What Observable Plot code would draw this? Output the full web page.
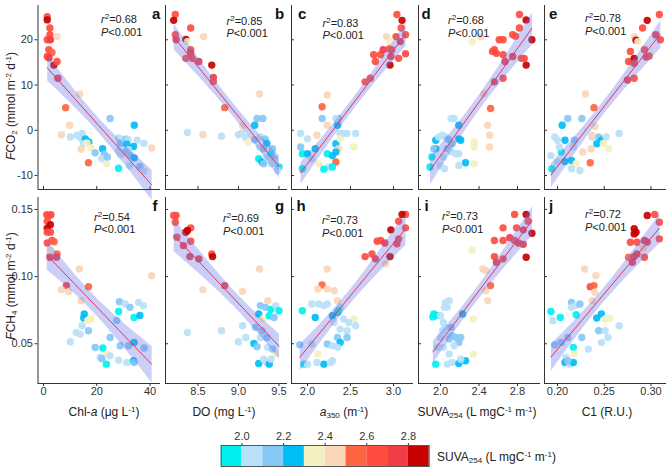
<!DOCTYPE html>
<html><head><meta charset="utf-8">
<script src="https://cdn.jsdelivr.net/npm/d3@7"></script>
<script src="https://cdn.jsdelivr.net/npm/@observablehq/plot@0.6"></script>
<style>
body{margin:0;background:#fff;font-family:"Liberation Sans",Arial,sans-serif;}
#chart{position:relative;width:672px;height:468px;overflow:hidden;background:#fff;}
#chart svg{position:absolute;left:0;top:0;}
.t{position:absolute;white-space:nowrap;color:#222;font-size:11px;line-height:12px;}
.lt{position:absolute;white-space:nowrap;color:#111;font-size:15px;line-height:15px;font-weight:bold;}
.yl{position:absolute;white-space:nowrap;color:#222;font-size:12px;line-height:14px;transform:translate(-50%,-50%) rotate(-90deg);}
.xl{position:absolute;white-space:nowrap;color:#222;font-size:12px;line-height:14px;transform:translate(-50%,-50%);}
sub,sup{font-size:8px;line-height:0;}
sup{vertical-align:4px;} sub{vertical-align:-2px;}
</style></head>
<body><div id="chart"></div>
<script>
// ---------- data: [x, y, SUVA254] ----------
const chlaFco2 = [[1.4,25.1,2.65],[1.4,24.4,2.85],[2.4,22.6,2.65],[2.4,21.1,2.65],[1.4,20.0,2.65],[2.6,20.0,2.75],[5.1,20.7,2.45],[2.0,17.8,2.65],[3.2,17.2,2.55],[1.4,16.3,2.65],[2.1,16.0,2.75],[3.9,14.4,2.85],[5.1,15.2,2.65],[5.4,11.5,2.75],[13.6,8.0,2.45],[8.3,5.0,2.55],[9.8,1.1,2.45],[6.7,-1.0,2.45],[10.1,-1.5,2.05],[12.6,-1.1,2.05],[14.5,-0.7,2.05],[14.0,-1.7,2.05],[15.7,-1.9,2.25],[17.0,-2.6,2.25],[15.0,-3.0,2.05],[16.3,-2.8,2.35],[14.1,-4.2,2.45],[17.9,-3.9,2.35],[16.9,-7.2,2.55],[19.4,-5.0,2.15],[22.2,-4.1,2.25],[22.8,-5.3,2.15],[21.9,-6.3,2.05],[23.6,-7.4,2.35],[24.0,-5.9,2.15],[25.0,2.6,2.15],[28.2,-1.7,2.05],[29.4,-2.0,2.05],[31.0,-2.0,2.15],[31.8,-2.1,2.05],[28.9,-2.9,2.15],[31.3,-3.1,2.25],[34.1,1.1,2.25],[35.2,-2.2,2.05],[37.7,-2.9,2.05],[40.6,-3.9,2.45],[33.8,-3.6,2.25],[31.9,-4.3,2.05],[28.2,-4.6,2.05],[30.7,-4.8,2.15],[28.9,-5.4,2.05],[32.6,-5.6,2.15],[34.1,-6.1,2.25],[28.2,-8.4,1.95],[32.3,-7.8,2.05],[36.2,-8.0,2.15],[37.7,-9.0,2.05]];
const doFco2 = [[8.22,25.6,2.65],[8.20,24.3,2.85],[8.22,21.1,2.65],[8.23,20.0,2.75],[8.41,22.6,2.65],[8.35,20.1,2.85],[8.37,19.6,2.35],[8.57,20.7,2.45],[8.41,17.8,2.65],[8.41,17.1,2.75],[8.35,15.9,2.65],[8.43,15.9,2.65],[8.51,15.2,2.75],[8.67,14.4,2.85],[8.69,11.7,2.75],[8.69,10.8,2.65],[8.83,5.0,2.55],[9.26,8.0,2.45],[8.37,-0.5,2.05],[8.56,-1.0,2.45],[8.79,-1.3,2.05],[9.05,1.0,2.45],[9.00,-1.0,2.05],[9.04,-0.7,2.05],[9.09,-1.7,2.05],[9.12,-2.6,2.35],[9.23,2.6,2.15],[9.30,2.6,2.15],[9.20,1.1,2.25],[9.20,-2.1,2.15],[9.27,-1.5,2.05],[9.33,-1.9,2.15],[9.35,-2.9,2.25],[9.26,-3.7,2.05],[9.31,-4.1,2.15],[9.25,-6.3,1.95],[9.29,-7.0,2.25],[9.35,-5.9,2.05],[9.40,-5.2,1.95],[9.42,-4.1,2.15],[9.44,-6.3,2.15],[9.31,-7.4,2.15],[9.50,-8.1,1.95],[9.48,-8.9,2.05],[9.40,-7.4,2.05],[9.45,-7.2,2.05]];
const a350Fco2 = [[1.92,-0.7,2.05],[1.92,-3.7,2.15],[1.94,-5.2,1.95],[2.00,-1.9,2.05],[1.94,-8.5,1.95],[2.00,-5.2,2.25],[2.05,-6.3,2.05],[2.09,-4.1,2.25],[2.11,-1.1,2.45],[2.13,-7.4,2.35],[2.17,5.2,2.55],[2.17,2.6,2.15],[2.23,7.8,2.45],[2.23,1.1,2.45],[2.23,-5.2,1.95],[2.25,-8.1,2.05],[2.19,-8.6,1.95],[2.36,2.6,2.15],[2.35,1.1,2.25],[2.33,2.6,2.05],[2.38,-0.7,2.05],[2.42,-0.7,2.05],[2.46,-0.7,2.05],[2.56,-0.7,2.05],[2.33,-3.0,2.25],[2.38,-1.9,2.35],[2.36,-4.1,2.45],[2.54,-3.7,2.35],[2.33,-4.8,2.25],[2.29,-5.6,2.25],[2.33,-7.0,2.55],[2.29,-8.1,1.95],[2.67,10.7,2.65],[2.73,11.5,2.65],[2.79,15.2,2.65],[2.85,16.7,2.65],[2.88,17.8,2.75],[2.92,20.7,2.45],[2.96,19.6,2.35],[2.97,16.3,2.75],[2.96,14.4,2.85],[2.98,17.8,2.65],[2.95,18.0,2.65],[3.04,25.6,2.65],[3.10,24.3,2.85],[3.09,22.6,2.65],[3.03,20.7,2.65],[3.14,21.1,2.65],[3.08,19.6,2.75],[3.06,15.9,2.65],[3.14,16.9,2.65],[2.77,16.7,2.65]];
const suvaFco2 = [[1.89,-8.1,1.95],[1.91,-5.9,1.95],[1.95,-4.1,2.25],[1.95,-2.2,2.25],[1.98,-1.5,2.05],[2.02,-1.1,2.05],[2.05,-1.5,2.05],[2.11,2.6,2.05],[2.14,2.6,2.05],[2.19,1.1,2.25],[2.19,-1.9,2.25],[2.21,-2.2,2.25],[2.08,-2.0,2.15],[2.12,-3.0,2.15],[2.07,-4.1,2.15],[2.11,-4.8,2.05],[2.16,-5.2,2.05],[2.03,-5.9,2.05],[2.19,-5.2,2.05],[2.26,-7.2,2.25],[2.19,-7.8,2.05],[2.04,-8.5,2.05],[2.00,-7.8,2.05],[1.93,-4.1,2.15],[2.35,-2.6,2.35],[2.35,-3.7,2.35],[2.35,-7.4,2.35],[2.33,19.6,2.35],[2.42,20.7,2.45],[2.45,8.1,2.45],[2.49,1.1,2.45],[2.51,-1.1,2.45],[2.51,-3.7,2.45],[2.52,4.8,2.55],[2.56,10.7,2.75],[2.56,17.8,2.65],[2.54,17.4,2.65],[2.58,17.0,2.65],[2.61,20.0,2.65],[2.82,25.6,2.65],[2.89,24.4,2.85],[2.65,20.0,2.65],[2.75,21.1,2.65],[2.78,20.8,2.65],[2.82,22.6,2.65],[2.95,20.0,2.85],[2.65,16.7,2.65],[2.67,15.2,2.75],[2.75,16.3,2.75],[2.84,15.9,2.65],[2.87,15.9,2.65],[2.89,14.4,2.85],[2.65,11.5,2.65]];
const c1Fco2 = [[0.309,25.6,2.65],[0.296,24.3,2.85],[0.291,22.6,2.65],[0.305,21.1,2.75],[0.310,20.0,2.65],[0.282,20.7,2.45],[0.284,19.9,2.85],[0.286,19.6,2.35],[0.278,17.4,2.65],[0.293,17.8,2.65],[0.295,16.2,2.75],[0.276,15.2,2.65],[0.282,15.9,2.85],[0.282,14.8,2.75],[0.275,11.1,2.75],[0.282,11.5,2.65],[0.298,16.4,2.65],[0.230,8.0,2.45],[0.239,5.0,2.55],[0.211,2.6,2.15],[0.226,2.6,2.15],[0.205,1.1,2.25],[0.240,0.9,2.45],[0.197,-1.5,2.05],[0.200,-2.2,2.05],[0.208,-2.2,2.25],[0.218,-2.2,2.15],[0.237,-1.5,2.05],[0.244,-1.5,2.15],[0.247,-2.2,2.25],[0.252,-1.5,2.05],[0.266,-0.7,2.05],[0.237,-1.1,2.45],[0.242,-3.0,2.25],[0.249,-2.9,2.35],[0.255,-4.1,2.35],[0.236,-4.1,2.45],[0.227,-4.8,2.45],[0.193,-5.6,2.05],[0.204,-4.8,1.95],[0.200,-7.0,2.05],[0.208,-6.9,2.25],[0.215,-6.7,2.25],[0.235,-7.2,2.55],[0.194,-8.5,1.95],[0.215,-8.5,2.05],[0.224,-8.9,2.05],[0.220,-7.4,2.35],[0.217,-3.7,2.05],[0.202,-3.7,2.05]];
const chlaFch4 = [[2.0,0.1455,2.65],[1.2,0.1460,2.65],[2.8,0.1460,2.65],[1.4,0.1413,2.65],[2.6,0.1386,2.85],[1.4,0.1360,2.85],[1.4,0.1331,2.65],[2.6,0.1331,2.65],[3.2,0.1269,2.65],[1.4,0.1250,2.65],[4.0,0.1260,2.55],[2.6,0.1194,2.35],[5.1,0.1169,2.55],[4.9,0.1144,2.75],[2.4,0.1144,2.75],[13.5,0.1057,2.45],[8.6,0.0933,2.75],[6.7,0.0903,2.45],[9.4,0.0888,2.45],[16.9,0.0925,2.55],[14.1,0.0821,2.45],[40.6,0.1007,2.45],[28.5,0.0813,2.15],[30.7,0.0796,2.05],[32.5,0.0771,2.15],[35.7,0.0808,2.05],[37.5,0.0784,2.05],[28.2,0.0741,1.95],[34.0,0.0696,1.95],[36.2,0.0711,2.25],[27.5,0.0673,2.15],[15.3,0.0722,2.25],[15.1,0.0692,2.25],[16.6,0.0674,2.35],[17.9,0.0686,2.35],[14.5,0.0634,2.05],[12.3,0.0584,2.05],[16.9,0.0597,2.15],[13.8,0.0572,2.05],[10.1,0.0515,2.05],[25.0,0.0547,2.15],[28.8,0.0485,2.15],[31.9,0.0485,2.15],[34.0,0.0510,2.25],[37.8,0.0468,2.15],[19.4,0.0472,2.15],[22.3,0.0468,1.95],[21.3,0.0398,2.05],[23.8,0.0423,2.35],[21.9,0.0389,2.15],[23.6,0.0348,1.95],[28.2,0.0378,2.05],[31.3,0.0360,2.05],[33.8,0.0373,2.25],[34.0,0.0361,2.15],[25.0,0.0410,2.05]];
const doFch4 = [[8.20,0.1455,2.65],[8.23,0.1455,2.65],[8.22,0.1405,2.65],[8.41,0.1363,2.65],[8.37,0.1343,2.85],[8.35,0.1330,2.85],[8.24,0.1293,2.65],[8.41,0.1263,2.65],[8.32,0.1231,2.75],[8.40,0.1149,2.75],[8.51,0.1132,2.75],[8.67,0.1169,2.65],[8.68,0.1149,2.85],[8.83,0.0933,2.75],[8.56,0.0903,2.45],[9.05,0.0890,2.45],[9.26,0.1057,2.45],[9.36,0.0821,2.45],[8.37,0.0584,2.05],[8.79,0.0597,2.05],[9.05,0.0634,2.05],[9.00,0.0515,2.05],[9.09,0.0547,2.05],[9.25,0.0722,2.25],[9.30,0.0685,2.35],[9.27,0.0784,2.15],[9.33,0.0771,2.15],[9.40,0.0756,1.95],[9.46,0.0784,2.05],[9.50,0.0746,1.95],[9.38,0.0709,1.95],[9.44,0.0696,2.15],[9.21,0.0622,2.15],[9.29,0.0597,2.15],[9.19,0.0502,2.25],[9.27,0.0547,2.05],[9.35,0.0547,2.15],[9.36,0.0473,2.05],[9.23,0.0478,2.15],[9.46,0.0423,2.35],[9.42,0.0460,2.15],[9.25,0.0353,2.25],[9.31,0.0385,2.05],[9.35,0.0360,2.05],[9.38,0.0348,2.25],[9.40,0.0385,2.05]];
const a350Fch4 = [[1.94,0.0746,1.95],[1.91,0.0493,2.15],[1.96,0.0348,1.95],[2.00,0.0348,2.05],[2.05,0.0796,2.05],[2.09,0.0696,2.25],[2.12,0.0423,2.35],[2.13,0.0796,2.05],[2.19,0.0784,2.05],[2.23,0.0796,2.05],[2.17,0.0938,2.55],[2.12,0.0908,2.45],[2.23,0.1057,2.45],[2.23,0.0908,2.45],[2.19,0.0348,2.25],[2.11,0.0361,2.05],[2.05,0.0498,2.05],[2.23,0.0498,2.15],[2.27,0.0361,2.05],[3.14,0.1463,2.65],[3.10,0.1463,2.85],[3.06,0.1413,2.65],[2.97,0.1348,2.85],[3.14,0.1363,2.65],[2.85,0.1269,2.65],[2.81,0.1263,2.65],[2.90,0.1250,2.75],[3.04,0.1245,2.75],[3.06,0.1280,2.65],[2.96,0.1149,2.85],[2.91,0.1095,2.45],[2.75,0.1169,2.65],[2.67,0.1149,2.65],[2.79,0.1132,2.75],[2.35,0.0821,2.45],[2.31,0.0895,2.45],[2.35,0.0734,2.25],[2.38,0.0771,2.05],[2.29,0.0709,2.25],[2.42,0.0684,2.05],[2.54,0.0684,2.35],[2.56,0.0634,2.05],[2.48,0.0659,2.05],[2.46,0.0597,2.05],[2.38,0.0609,2.05],[2.35,0.0547,2.15],[2.46,0.0547,2.15],[2.38,0.0510,2.25],[2.35,0.0473,2.05],[2.29,0.0485,2.05],[2.29,0.0373,2.05],[2.36,0.0746,1.95],[2.31,0.0659,2.05]];
const suvaFch4 = [[1.93,0.0722,1.95],[1.92,0.0700,1.95],[1.96,0.0710,1.95],[1.95,0.0348,1.95],[1.97,0.0473,2.05],[2.00,0.0547,2.05],[2.02,0.0597,2.05],[2.05,0.0808,2.05],[2.09,0.0821,2.05],[2.07,0.0771,2.05],[2.04,0.0771,2.05],[2.00,0.0709,2.05],[2.03,0.0659,2.05],[2.05,0.0622,2.05],[2.11,0.0622,2.15],[2.12,0.0560,2.15],[2.09,0.0535,2.15],[2.16,0.0547,2.15],[2.19,0.0510,2.15],[2.14,0.0485,2.05],[2.23,0.0722,2.25],[2.21,0.0547,2.15],[2.03,0.0473,2.05],[2.09,0.0423,2.05],[2.07,0.0348,2.05],[2.12,0.0361,2.05],[2.19,0.0353,2.25],[2.26,0.0373,2.25],[2.21,0.0385,2.05],[2.34,0.0423,2.35],[2.34,0.0684,2.35],[2.33,0.1199,2.35],[2.44,0.1057,2.45],[2.47,0.1045,2.45],[2.47,0.0895,2.45],[2.49,0.0821,2.45],[2.52,0.0933,2.55],[2.56,0.1269,2.65],[2.56,0.1149,2.65],[2.58,0.1107,2.75],[2.77,0.1463,2.65],[2.89,0.1463,2.85],[2.91,0.1413,2.65],[2.65,0.1363,2.65],[2.79,0.1363,2.65],[2.86,0.1348,2.75],[2.95,0.1323,2.85],[2.65,0.1269,2.65],[2.77,0.1269,2.65],[2.81,0.1250,2.75],[2.72,0.1290,2.75],[2.89,0.1144,2.85],[2.65,0.1132,2.65],[2.86,0.1240,2.75]];
const c1Fch4 = [[0.296,0.1455,2.85],[0.304,0.1463,2.65],[0.309,0.1405,2.65],[0.282,0.1356,2.85],[0.284,0.1331,2.85],[0.282,0.1318,2.85],[0.278,0.1256,2.65],[0.285,0.1256,2.65],[0.293,0.1269,2.75],[0.296,0.1256,2.75],[0.292,0.1214,2.45],[0.309,0.1281,2.65],[0.276,0.1144,2.55],[0.282,0.1149,2.75],[0.285,0.1169,2.75],[0.293,0.1144,2.65],[0.280,0.1107,2.75],[0.229,0.1057,2.45],[0.241,0.1007,2.45],[0.235,0.0925,2.65],[0.239,0.0933,2.55],[0.240,0.0883,2.45],[0.237,0.0821,2.45],[0.215,0.0808,2.15],[0.219,0.0784,2.05],[0.224,0.0796,2.15],[0.215,0.0771,2.05],[0.193,0.0741,1.95],[0.203,0.0696,1.95],[0.220,0.0716,1.95],[0.195,0.0672,2.05],[0.247,0.0722,2.25],[0.242,0.0692,2.25],[0.251,0.0684,2.35],[0.256,0.0689,2.35],[0.266,0.0634,2.05],[0.244,0.0597,2.15],[0.251,0.0597,2.05],[0.254,0.0547,2.05],[0.247,0.0510,2.05],[0.226,0.0547,2.15],[0.211,0.0547,2.15],[0.197,0.0493,2.15],[0.204,0.0510,2.15],[0.217,0.0473,1.95],[0.233,0.0460,2.05],[0.218,0.0423,2.35],[0.209,0.0398,2.05],[0.208,0.0360,2.25],[0.213,0.0348,2.05],[0.217,0.0360,2.25],[0.211,0.0373,2.15]];

// ---------- ticks, labels, stats ----------
const co2Ticks = [-10, 0, 10, 20];
const ch4Ticks = [0.05, 0.10, 0.15];
const chlaTicks = [0, 20, 40];
const doTicks = [8.5, 9.0, 9.5];
const a350Ticks = [2.0, 2.5, 3.0];
const suvaTicks = [2.0, 2.4, 2.8];
const c1Ticks = [0.20, 0.25, 0.30];
const panelLetters = ["a","b","c","d","e","f","g","h","i","j"];
const r2Values = ["0.68","0.85","0.83","0.68","0.78","0.54","0.69","0.73","0.73","0.72"];
const pText = "0.001";
const suvaThresholds = [2.0, 2.1, 2.2, 2.3, 2.4, 2.5, 2.6, 2.7, 2.8];
const suvaColors = ["#00f0f0","#b9e1f9","#85c9f6","#00bdf5","#f5f0c0","#fbd6b8","#ff6440","#ff4c3f","#f23c46","#c70000"];
const legendEdges = [1.9, 2.0, 2.1, 2.2, 2.3, 2.4, 2.5, 2.6, 2.7, 2.8, 2.9];
const legendTicks = [2.0, 2.2, 2.4, 2.6, 2.8];

// ---------- layout ----------
const W = 672, H = 468;
const rows = [
  {top: 5, bottom: 189, ydom: [-13.1, 27.58], yticks: co2Ticks, yfmt: d => String(d), data: [chlaFco2, doFco2, a350Fco2, suvaFco2, c1Fco2]},
  {top: 197, bottom: 383, ydom: [0.0204, 0.1589], yticks: ch4Ticks, yfmt: d3.format(".2f"), data: [chlaFch4, doFch4, a350Fch4, suvaFch4, c1Fch4]}
];
const cols = [
  {x0: 37.5, x1: 160, xdom: [-2.07, 43.94], xticks: chlaTicks, xfmt: d => String(d)},
  {x0: 165, x1: 287, xdom: [8.099, 9.605], xticks: doTicks, xfmt: d3.format(".1f")},
  {x0: 291, x1: 413, xdom: [1.814, 3.233], xticks: a350Ticks, xfmt: d3.format(".1f")},
  {x0: 418, x1: 540, xdom: [1.771, 3.039], xticks: suvaTicks, xfmt: d3.format(".1f")},
  {x0: 544, x1: 666, xdom: [0.1861, 0.3166], xticks: c1Ticks, xfmt: d3.format(".2f")}
];
const colorScale = {type: "threshold", domain: suvaThresholds, range: suvaColors};
const chart = document.getElementById("chart");
const font = "'Liberation Sans', Arial, sans-serif";

rows.forEach((row, ri) => {
  cols.forEach((col, ci) => {
    const data = row.data[ci];
    const svg = Plot.plot({
      width: W, height: H,
      marginLeft: col.x0, marginRight: W - col.x1,
      marginTop: row.top, marginBottom: H - row.bottom,
      style: {background: "transparent", overflow: "visible", fontFamily: font, fontSize: "11px", color: "#333"},
      x: {domain: col.xdom, ticks: col.xticks, tickSize: ri === 1 ? 3 : -3, tickPadding: 1,
          tickFormat: ri === 1 ? col.xfmt : () => "", label: null},
      y: {domain: row.ydom, ticks: row.yticks, tickSize: ci === 0 ? 3 : -3, tickPadding: 2,
          tickFormat: ci === 0 ? row.yfmt : () => "", label: null},
      color: colorScale,
      marks: [
        Plot.dot(data, {x: d => d[0], y: d => d[1], fill: d => d[2], r: 3.7, fillOpacity: 0.92}),
        Plot.linearRegressionY(data, {x: d => d[0], y: d => d[1], stroke: "#e0385a", strokeWidth: 1,
          fill: "#6a72e6", fillOpacity: 0.35}),
        Plot.ruleX([col.xdom[0]], {stroke: "#333"}),
        Plot.ruleY([row.ydom[0]], {stroke: "#333"})
      ]
    });
    chart.appendChild(svg);
  });
});

// legend
const legend = Plot.plot({
  width: W, height: H,
  marginLeft: 220.7, marginRight: W - 428.7, marginTop: 445, marginBottom: H - 466,
  style: {background: "transparent", overflow: "visible", fontFamily: font, fontSize: "11px", color: "#333"},
  x: {domain: [legendEdges[0], legendEdges[legendEdges.length - 1]], ticks: legendTicks, tickFormat: d3.format(".1f"),
      axis: "top", tickSize: 3, tickPadding: 3, label: null},
  y: {axis: null, domain: [0, 1]},
  color: colorScale,
  marks: [
    Plot.rect(legendEdges.slice(0, -1), {x1: (d, i) => legendEdges[i], x2: (d, i) => legendEdges[i + 1], y1: 0, y2: 1,
      fill: (d, i) => (legendEdges[i] + legendEdges[i + 1]) / 2}),
    Plot.frame({stroke: "#555"})
  ]
});
chart.appendChild(legend);

// ---------- HTML text ----------
function addDiv(cls, html, left, top) {
  const el = document.createElement("div");
  el.className = cls; el.innerHTML = html;
  el.style.left = left + "px"; el.style.top = top + "px";
  chart.appendChild(el);
  return el;
}
const letterPos = [[152,5.6],[275,5.6],[298,5.6],[421.5,5.6],[549,5.6],[152.5,197.8],[275,197.8],[296.5,197.8],[424.5,197.8],[549,197.8]];
letterPos.forEach((p, i) => addDiv("lt", panelLetters[i], p[0], p[1]));
const statPos = [[101,13.4],[226.5,14.7],[322.5,16.7],[448,14.0],[585,12.4],[94,210.7],[223,212.4],[322,214],[442,210],[585,208]];
statPos.forEach((p, i) => {
  addDiv("t", "<i>r</i><sup>2</sup>=" + r2Values[i], p[0], p[1]);
  addDiv("t", "<i>P</i>&lt;" + pText, p[0], p[1] + 12.5);
});
addDiv("yl", "<i>F</i>CO<sub>2</sub> (mmol m<sup>-2</sup> d<sup>-1</sup>)", 11, 106);
addDiv("yl", "<i>F</i>CH<sub>4</sub> (mmol m<sup>-2</sup> d<sup>-1</sup>)", 11, 286);
addDiv("xl", "Chl-<i>a</i> (μg L<sup>-1</sup>)", 104, 412);
addDiv("xl", "DO (mg L<sup>-1</sup>)", 224, 412);
addDiv("xl", "<i>a</i><sub>350</sub> (m<sup>-1</sup>)", 344, 412);
addDiv("xl", "SUVA<sub>254</sub> (L mgC<sup>-1</sup> m<sup>-1</sup>)", 477, 412);
addDiv("xl", "C1 (R.U.)", 607, 412);
const legLabel = addDiv("t", "SUVA<sub>254</sub> (L mgC<sup>-1</sup> m<sup>-1</sup>)", 437, 450);
legLabel.style.fontSize = "12px";
legLabel.style.lineHeight = "14px";
</script>
</body></html>
